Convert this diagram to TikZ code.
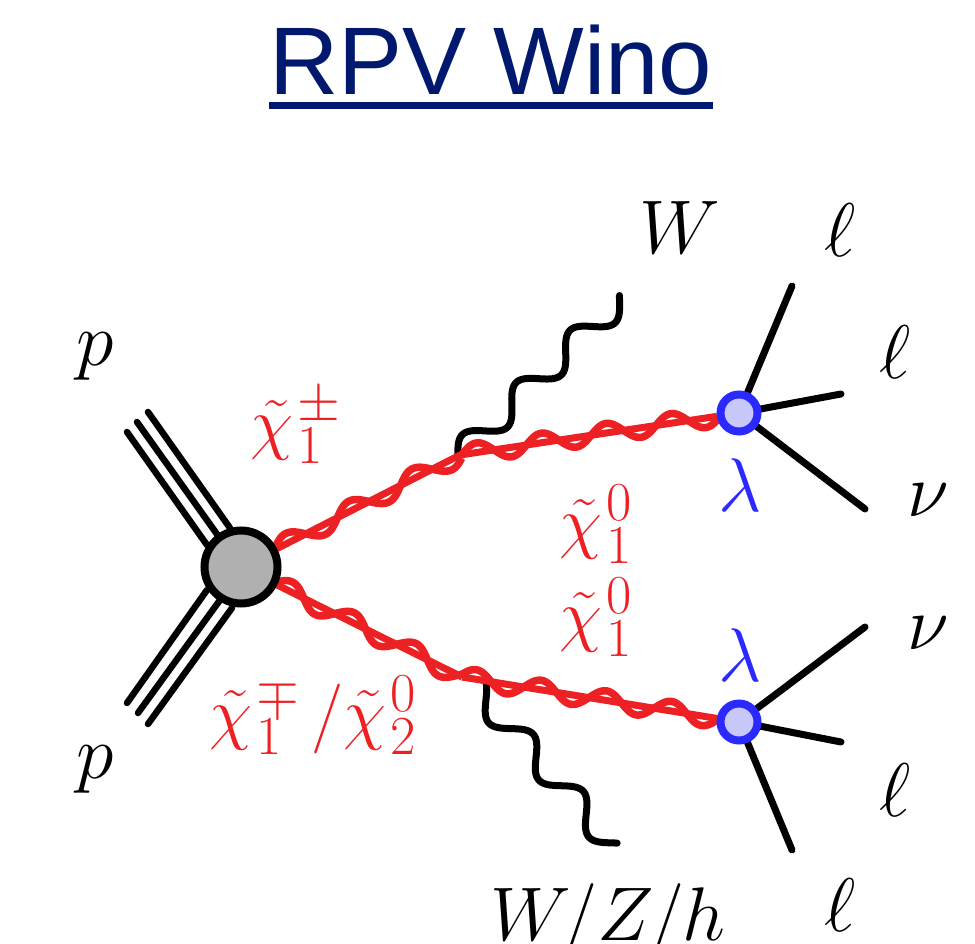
\documentclass[tikz,border=0pt]{standalone}
\usepackage{fix-cm}
\usepackage{fontspec}
\newfontfamily\titlefont{Liberation Sans}
\usetikzlibrary{backgrounds, calc}
\DeclareMathSizes{70}{70}{55}{44}
\definecolor{titleblue}{RGB}{0,25,110}
\definecolor{inored}{RGB}{237,32,36}
\definecolor{rpvblue}{RGB}{42,42,255}
\definecolor{rpvfill}{RGB}{200,200,248}
\definecolor{blobgray}{RGB}{176,176,176}
\tikzset{
    blob/.style={circle, draw=black, fill=blobgray, line width=8pt, minimum size=73pt, inner sep=0pt},
    rpv/.style={circle, draw=rpvblue, fill=rpvfill, line width=8pt, minimum size=37pt, inner sep=0pt},
    beam/.style={line width=6.5pt, line cap=round},
    lepton/.style={line width=7pt, line cap=round},
    boson/.style={line width=7pt, line cap=round, line join=round},
    ino/.style={line width=7pt, inored},
    inowave/.style={line width=7.5pt, inored, line join=round},
    lab/.style={font=\fontsize{76}{84}\selectfont, inner sep=0pt},
    inolab/.style={font=\fontsize{70}{78}\selectfont, inner sep=0pt, text=inored},
    rpvlab/.style={lab, text=rpvblue},
    titleline/.style={line width=7pt, titleblue}
}
% wavy line: style, from, to, period, phase, amplitude
\newcommand{\wavy}[6]{
    \draw[#1] let \p1=(#2), \p2=(#3), \n1={veclen(\x2-\x1,\y2-\y1)} in
        plot[variable=\t, domain=0:1, samples=160, smooth]
        ({\x1+\t*(\x2-\x1)-(#6)*sin(#5+360*\t*(\n1/#4))*((\y2-\y1)/\n1)},
         {\y1+\t*(\y2-\y1)+(#6)*sin(#5+360*\t*(\n1/#4))*((\x2-\x1)/\n1)});
}
\begin{document}
\begin{tikzpicture}[x=1pt, y=-1pt]
    \useasboundingbox (0,0) rectangle (975,944);

    % Title
    \node[inner sep=0pt, text=titleblue, font=\titlefont\fontsize{96}{100}\selectfont] (title) at (491,60) {RPV Wino};
    \draw[titleline] ([yshift=-10pt]title.south west) -- ([yshift=-10pt]title.south east);

    % Nodes
    \node[blob] (hard) at (241,567) {};
    \node[rpv] (rpvup) at (739,413) {};
    \node[rpv] (rpvdown) at (739,722) {};

    % Free ends
    \coordinate (splitup) at (460,455);
    \coordinate (splitdown) at (462,677);
    \coordinate (wup) at (622,298);
    \coordinate (wstart) at (458,457);
    \coordinate (zdown) at (614,846);
    \coordinate (zstart) at (478,691);
    \coordinate (pa) at (127,432);
    \coordinate (pb) at (137,422);
    \coordinate (pc) at (148,412);
    \coordinate (pd) at (127,703);
    \coordinate (pe) at (138,713);
    \coordinate (pf) at (148,724);
    \coordinate (la) at (792,286);
    \coordinate (lb) at (841,394);
    \coordinate (nua) at (865,509);
    \coordinate (nub) at (865,627);
    \coordinate (lc) at (841,742);
    \coordinate (ld) at (792,850);

    % Edges
    \begin{pgfonlayer}{background}
        \draw[beam] (pa) -- (207,545);
        \draw[beam] (pb) -- (219,537);
        \draw[beam] (pc) -- (230,528);
        \draw[beam] (pd) -- (207,590);
        \draw[beam] (pe) -- (220,600);
        \draw[beam] (pf) -- (232,608);
        \wavy{boson}{wstart}{wup}{75}{0}{13pt}
        \wavy{boson}{zstart}{zdown}{76}{123}{13pt}
        \draw[ino] (hard) -- (splitup);
        \draw[ino] (hard) -- (splitdown);
        \draw[ino] (splitup) -- (rpvup);
        \draw[ino] (splitdown) -- (rpvdown);
        \wavy{inowave}{hard}{splitup}{71}{-189}{9.5pt}
        \wavy{inowave}{hard}{splitdown}{69}{-186}{9.5pt}
        \wavy{inowave}{splitup}{rpvup}{65.5}{-9}{9.5pt}
        \wavy{inowave}{splitdown}{rpvdown}{66}{19}{9.5pt}
        \draw[lepton] (rpvup.center) -- (la);
        \draw[lepton] (rpvup.center) -- (lb);
        \draw[lepton] (rpvup.center) -- (nua);
        \draw[lepton] (rpvdown.center) -- (nub);
        \draw[lepton] (rpvdown.center) -- (lc);
        \draw[lepton] (rpvdown.center) -- (ld);
    \end{pgfonlayer}

    % Labels
    \node[lab] (pup) at (95,357) {$p$};
    \node[lab] (pdown) at (95,770) {$p$};
    \node[lab] (wlab) at (680,228) {$W$};
    \node[lab, anchor=base] (vlab) at (608,940) {$W\mkern-2mu/Z\mkern-1mu/\mkern-0.5mu h$};
    \node[lab] (la lab) at (840,230) {$\ell$};
    \node[lab] (lb lab) at (895,352) {$\ell$};
    \node[lab] (nua lab) at (928,500) {$\nu$};
    \node[lab] (nub lab) at (928,633) {$\nu$};
    \node[lab] (lc lab) at (895,790) {$\ell$};
    \node[lab] (ld lab) at (840,905) {$\ell$};
    \node[inolab] (cpm) at (296,426) {$\tilde{\chi}\mkern1mu{}_1^{\pm}$};
    \node[inolab] (cza) at (596,524) {$\tilde{\chi}\mkern1mu{}_1^{0}$};
    \node[inolab] (czb) at (596,617) {$\tilde{\chi}\mkern1mu{}_1^{0}$};
    \node[inolab] (cmp) at (313,715) {$\tilde{\chi}\mkern1mu{}_1^{\mp}\mkern3mu/\tilde{\chi}\mkern1mu{}_2^{0}$};
    \node[rpvlab] (lama) at (740,485) {$\lambda$};
    \node[rpvlab] (lamb) at (740,655) {$\lambda$};
\end{tikzpicture}
\end{document}
